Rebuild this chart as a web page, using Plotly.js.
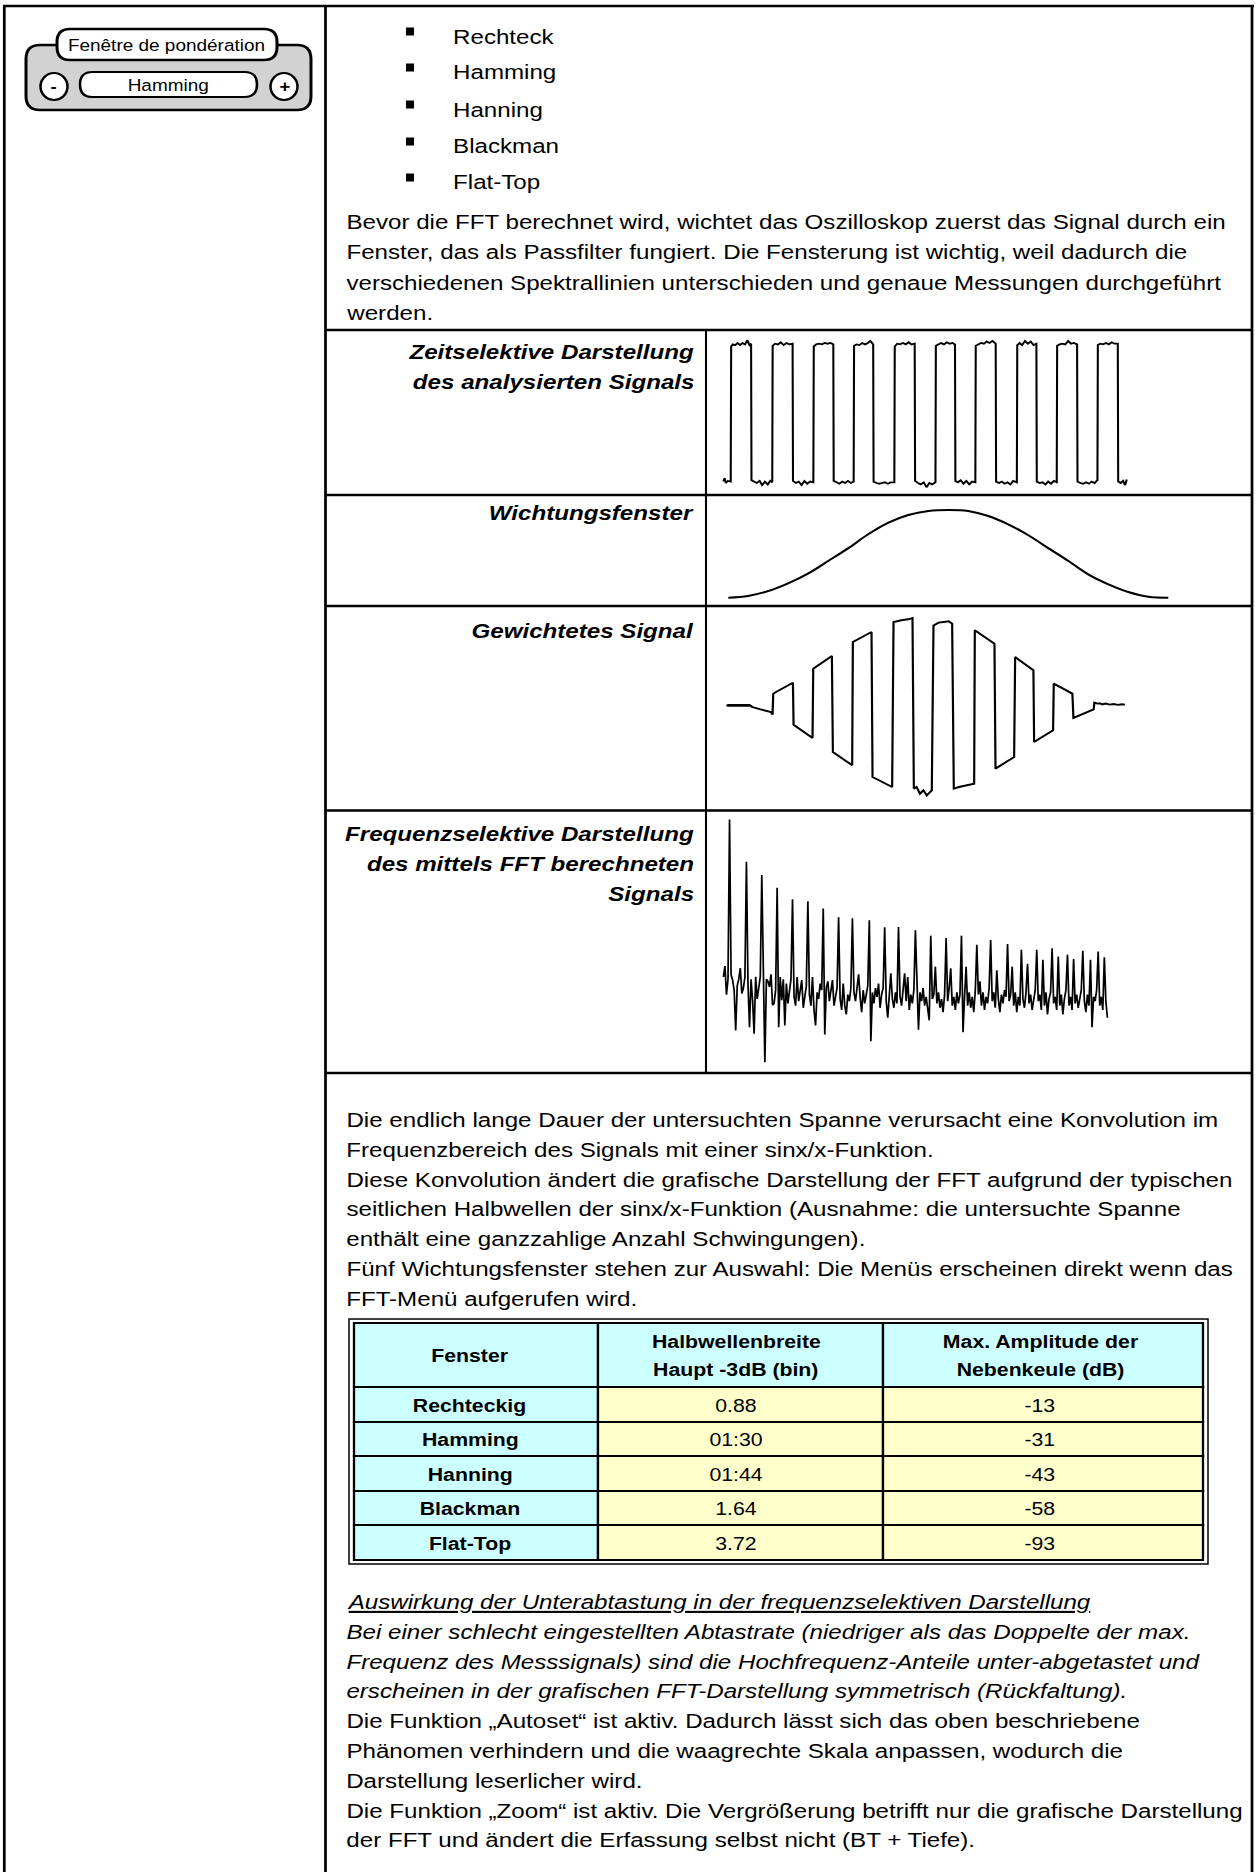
<!DOCTYPE html>
<html><head><meta charset="utf-8">
<script src="https://cdn.plot.ly/plotly-3.0.1.min.js"></script>
<style>
html,body{margin:0;padding:0;background:#fff;overflow:hidden;}
#page{width:1095px;height:1872px;transform-origin:0 0;}
</style></head><body><div id="page"></div>
<script>
// ================= DATA =================
const widgetTitle = "Fenêtre de pondération";
const widgetValue = "Hamming";
const windowOptions = ["Rechteck", "Hamming", "Hanning", "Blackman", "Flat-Top"];
const introLines = [
  "Bevor die FFT berechnet wird, wichtet das Oszilloskop zuerst das Signal durch ein",
  "Fenster, das als Passfilter fungiert. Die Fensterung ist wichtig, weil dadurch die",
  "verschiedenen Spektrallinien unterschieden und genaue Messungen durchgeführt",
  "werden."
];
const rowLabels = [
  ["Zeitselektive Darstellung", "des analysierten Signals"],
  ["Wichtungsfenster"],
  ["Gewichtetes Signal"],
  ["Frequenzselektive Darstellung", "des mittels FFT berechneten", "Signals"]
];
const convLines = [
  "Die endlich lange Dauer der untersuchten Spanne verursacht eine Konvolution im",
  "Frequenzbereich des Signals mit einer sinx/x-Funktion.",
  "Diese Konvolution ändert die grafische Darstellung der FFT aufgrund der typischen",
  "seitlichen Halbwellen der sinx/x-Funktion (Ausnahme: die untersuchte Spanne",
  "enthält eine ganzzahlige Anzahl Schwingungen).",
  "Fünf Wichtungsfenster stehen zur Auswahl: Die Menüs erscheinen direkt wenn das",
  "FFT-Menü aufgerufen wird."
];
const tableHeader = [["Fenster"], ["Halbwellenbreite", "Haupt -3dB (bin)"], ["Max. Amplitude der", "Nebenkeule (dB)"]];
const fensterNames = ["Rechteckig", "Hamming", "Hanning", "Blackman", "Flat-Top"];
const mainLobeWidth = ["0.88", "01:30", "01:44", "1.64", "3.72"];
const sideLobeDb = ["-13", "-31", "-43", "-58", "-93"];
const noteHeading = "Auswirkung der Unterabtastung in der frequenzselektiven Darstellung";
const noteItalic = [
  "Bei einer schlecht eingestellten Abtastrate (niedriger als das Doppelte der max.",
  "Frequenz des Messsignals) sind die Hochfrequenz-Anteile unter-abgetastet und",
  "erscheinen in der grafischen FFT-Darstellung symmetrisch (Rückfaltung)."
];
const notePlain = [
  "Die Funktion „Autoset“ ist aktiv. Dadurch lässt sich das oben beschriebene",
  "Phänomen verhindern und die waagrechte Skala anpassen, wodurch die",
  "Darstellung leserlicher wird.",
  "Die Funktion „Zoom“ ist aktiv. Die Vergrößerung betrifft nur die grafische Darstellung",
  "der FFT und ändert die Erfassung selbst nicht (BT + Tiefe)."
];

// time-domain square signal (time units, volts)
const sqT = [0.1,0.4,0.7,1.2,1.9,
 2.0,2.4,3.0,3.6,4.2,4.8,5.4,6.0,6.5,6.9,
 7.0,7.6,8.3,9.0,9.6,10.3,11.0,11.6,12.1,
 12.2,12.8,13.5,14.2,14.9,15.6,16.3,17.1,
 17.2,17.9,18.6,19.3,20.0,20.7,21.4,22.2,
 22.3,22.9,23.6,24.3,25.0,25.7,26.4,27.1,
 27.2,27.9,28.6,29.3,30.0,30.7,31.4,32.1,
 32.2,32.8,33.5,34.2,34.9,35.6,36.2,36.9,
 37.0,37.7,38.4,39.1,39.8,40.5,41.2,42.1,
 42.2,42.8,43.5,44.2,44.9,45.6,46.3,47.1,
 47.2,47.9,48.6,49.3,50.0,50.7,51.4,52.2,
 52.3,52.9,53.6,54.3,55.0,55.7,56.4,57.0,
 57.1,57.7,58.4,59.1,59.8,60.5,61.2,62.0,
 62.1,62.7,63.4,64.1,64.8,65.5,66.2,67.0,
 67.1,67.8,68.5,69.2,69.9,70.6,71.3,72.2,
 72.3,72.9,73.5,74.2,74.9,75.6,76.3,77.0,
 77.1,77.8,78.5,79.2,79.9,80.6,81.3,82.0,
 82.1,82.7,83.4,84.1,84.8,85.5,86.2,87.0,
 87.1,87.8,88.5,89.2,89.9,90.6,91.3,92.0,
 92.1,92.7,93.4,94.1,94.8,95.5,96.2,97.0,
 97.1,97.7,98.3,98.8,99.2];
const sqV = [-0.98,-0.93,-1.0,-0.97,-0.98,
 0.95,0.98,0.97,1.0,0.97,1.0,0.98,1.04,0.97,0.99,
 -0.96,-0.98,-1.0,-0.97,-1.03,-0.98,-1.02,-0.97,-0.99,
 0.96,0.99,0.98,1.01,0.97,1.0,0.98,0.99,
 -0.97,-1.0,-0.98,-1.03,-0.97,-1.01,-0.98,-0.99,
 0.95,0.98,0.99,0.98,1.0,0.99,1.0,0.98,
 -0.97,-0.99,-1.01,-0.98,-1.0,-0.97,-1.0,-0.98,
 0.96,0.98,0.97,1.0,0.98,1.0,1.03,0.98,
 -0.98,-1.0,-1.01,-1.0,-0.99,-1.01,-0.99,-0.99,
 0.95,0.99,0.98,1.0,0.98,1.01,0.98,0.99,
 -0.97,-1.0,-1.02,-0.99,-1.06,-1.0,-1.02,-0.99,
 0.96,0.98,1.0,0.98,1.01,0.99,1.0,0.98,
 -0.97,-0.99,-0.96,-1.01,-0.97,-1.02,-0.98,-0.99,
 0.96,0.98,1.0,0.99,1.02,1.0,1.03,0.99,
 -0.98,-1.0,-0.98,-1.01,-0.99,-1.02,-0.97,-0.99,
 0.97,1.0,0.97,1.03,0.99,1.02,0.97,0.99,
 -0.98,-1.0,-0.99,-1.02,-0.98,-1.01,-0.97,-0.99,
 0.96,0.98,0.99,0.98,1.03,0.99,1.0,0.98,
 -0.98,-1.0,-1.01,-0.99,-1.01,-0.98,-1.0,-0.96,
 0.97,0.99,0.98,1.0,0.98,1.01,0.99,0.99,
 -0.98,-1.0,-0.97,-1.03,-0.95];

// weighting window (normalised time, relative gain)
const winT = [0,0.045,0.091,0.136,0.182,0.227,0.273,0.318,0.364,0.409,0.455,0.5,0.545,0.591,0.636,0.682,0.727,0.773,0.818,0.864,0.909,0.955,1];
const winW = [0.08,0.098,0.15,0.23,0.335,0.465,0.6,0.745,0.867,0.948,0.99,1.0,0.99,0.937,0.85,0.735,0.6,0.465,0.325,0.22,0.14,0.09,0.08];

// weighted signal (time units, volts)
const wsT = [0.95,1.25,1.5,1.75,2.0,2.25,2.5,2.75,3.0,3.25,3.5,3.75,4.0,4.25,4.5,4.75,5.0,5.25,5.5,5.75,6.0,6.25,6.5,6.75,6.9,7.02,9.0,11.0,11.77,12.18,12.35,13.02,17.01,17.18,17.34,22.0,22.17,26.75,27.0,31.74,31.91,36.49,36.74,41.56,41.9,42.56,43.81,45.48,46.56,46.89,47.56,48.39,49.22,50.06,50.89,51.3,51.72,52.97,54.22,55.47,56.3,56.71,57.96,61.71,61.87,66.7,66.95,71.53,71.78,76.27,76.44,81.1,81.27,85.84,86.1,91.08,91.25,92.0,92.5,93.2,94.0,95.0,96.0,97.0,98.0,98.74];
const wsV = [0.01,-0.012,0.012,-0.012,0.012,-0.012,0.012,-0.012,0.012,-0.012,0.012,-0.012,0.012,-0.012,0.012,-0.012,0.012,-0.012,0.012,-0.012,0.012,-0.012,0.012,-0.012,0.0,-0.018,-0.045,-0.07,-0.079,-0.11,0.137,0.156,0.266,0.266,-0.228,-0.385,0.431,0.58,-0.55,-0.706,0.745,0.862,-0.843,-0.961,0.98,0.988,1.0,1.012,1.027,-0.98,-0.961,-1.04,-1.0,-1.059,-1.02,-1.0,0.94,0.973,0.98,0.988,0.96,-0.98,-0.961,-0.922,0.882,0.725,-0.745,-0.608,0.568,0.412,-0.432,-0.294,0.255,0.137,-0.149,-0.047,0.031,0.02,0.024,0.01,0.02,0.008,0.015,0.005,0.012,0.008];

// FFT spectrum, one value per frequency bin (dB)
const fftDb = [
 -65,-60,-73,-66,6.6,-64,-66.4,-71,-89.3,-69,
 -66,-61,-72.5,-70,-65,-12.6,-68,-87.8,-66,-75.6,
 -90.8,-64.9,-75,-69,-65,-18.6,-66,-103.8,-66,-67,
 -69.5,-63.8,-77.8,-77,-71,-24.4,-87.8,-65,-75.6,-66,
 -87,-68,-77,-71,-66,-29.7,-74,-78,-65,-76,
 -72,-66.4,-79,-74,-69,-30.6,-73,-78,-65,-80,
 -87,-72,-75,-68,-71,-33.9,-91.1,-70,-67,-76,
 -72,-66.4,-78,-73,-70,-37.8,-75,-80,-68,-78,
 -82,-73,-76,-70,-38.3,-72,-76,-70,-63.8,-74,
 -81,-71,-77,-73,-69,-39.2,-94.2,-72,-77,-70,
 -74,-68,-79,-73,-70,-42.4,-76,-83.5,-70,-63.3,
 -75,-79,-72,-77,-42.3,-74,-78,-71,-63.3,-76,
 -65,-80,-73,-77,-71,-43.8,-73,-89,-72,-76,
 -70,-78,-74,-79,-84.7,-46.2,-75,-73,-60.3,-77,
 -72,-79,-75,-81,-73,-47.3,-76,-70,-61,-78,
 -74,-80,-72,-77,-73,-46.2,-90.1,-74,-60.3,-78,
 -72,-79,-74,-81,-71,-50.4,-73,-67,-78,-72,
 -80,-74,-77,-70,-48.2,-76,-72,-79,-62,-75,
 -81,-73,-77,-71,-74,-50,-76,-73,-60.3,-78,
 -72,-81,-74,-78,-52.6,-75,-79,-72,-59,-77,
 -73,-80,-75,-71,-52.6,-76,-73,-80,-57.2,-78,
 -72,-82,-75,-72,-51.9,-77,-74,-80,-55.7,-78,
 -73,-82,-75,-71,-54.9,-78,-74,-80,-56.8,-77,
 -73,-79,-75,-71,-53.1,-76,-81,-73,-78,-57.2,
 -87.8,-74,-76,-71,-53.4,-78,-74,-80,-56,-76,
 -83.5];
const fftBin = fftDb.map((_, i) => i);

// ================= LAYOUT HELPERS =================
const W = 1259, H = 1872, PW = 1095, S = W / PW;
document.getElementById('page').style.transform = 'scaleX(' + S + ')';
const FONT = 'Liberation Sans, Arial, Helvetica, sans-serif';
const X = v => v / W, Y = v => 1 - v / H;

const shapes = [];
const annotations = [];
function line(x0, y0, x1, y1, w) {
  shapes.push({type:'line', xref:'paper', yref:'paper', x0:X(x0), y0:Y(y0), x1:X(x1), y1:Y(y1), line:{color:'#000', width:w}});
}
function rect(x0, y0, x1, y1, fill, w) {
  shapes.push({type:'rect', xref:'paper', yref:'paper', x0:X(x0), y0:Y(y0), x1:X(x1), y1:Y(y1), fillcolor:fill, line:{color:'#000', width:w}});
}
function rrect(x0, y0, x1, y1, r, fill, w) {
  const p = (a, b) => X(a) + ',' + Y(b);
  const path = 'M' + p(x0 + r, y0) + ' L' + p(x1 - r, y0) + ' Q' + p(x1, y0) + ' ' + p(x1, y0 + r) +
    ' L' + p(x1, y1 - r) + ' Q' + p(x1, y1) + ' ' + p(x1 - r, y1) +
    ' L' + p(x0 + r, y1) + ' Q' + p(x0, y1) + ' ' + p(x0, y1 - r) +
    ' L' + p(x0, y0 + r) + ' Q' + p(x0, y0) + ' ' + p(x0 + r, y0) + ' Z';
  shapes.push({type:'path', xref:'paper', yref:'paper', path, fillcolor:fill, line:{color:'#000', width:w}});
}
function circle(cx, cy, r, fill, w) {
  shapes.push({type:'circle', xref:'paper', yref:'paper', x0:X(cx - r), y0:Y(cy + r), x1:X(cx + r), y1:Y(cy - r), fillcolor:fill, line:{color:'#000', width:w}});
}
function txt(text, x, y, size, anchor) {
  annotations.push({xref:'paper', yref:'paper', x:X(x), y:Y(y), text, showarrow:false,
    xanchor: anchor || 'left', yanchor:'middle', borderpad:0,
    font:{family:FONT, size:size || 21, color:'#000'}});
}

// ---------- page frame ----------
line(3, 6, 1254, 6, 2.6);
line(4.3, 6, 4.3, H, 2.4);
line(1252, 6, 1252, H, 2.4);
line(325.5, 6, 325.5, H, 2.4);
[330, 495, 606, 810.5, 1073].forEach(yy => line(325.5, yy, 1252, yy, 2.6));
line(706, 330, 706, 1073, 1.8);

// ---------- widget ----------
rrect(26, 45, 311, 110, 14, '#d2d2d2', 2.6);
rrect(57, 29, 277, 60, 13, '#ffffff', 2.6);
rrect(80, 72, 257, 97, 12.5, '#ffffff', 2.2);
circle(54, 86.5, 13.5, '#ffffff', 2.2);
circle(284, 86.5, 13.5, '#ffffff', 2.2);
txt(widgetTitle, 167, 44.5, 16.5, 'center');
txt(widgetValue, 168, 85, 16.5, 'center');
txt('<b>-</b>', 54, 86, 16, 'center');
txt('<b>+</b>', 284, 86, 16, 'center');

// ---------- bullet list ----------
const bulletY = [36, 72, 109, 146, 182];
windowOptions.forEach((o, i) => {
  shapes.push({type:'rect', xref:'paper', yref:'paper', x0:X(406), x1:X(414), y0:Y(bulletY[i] - 0.5), y1:Y(bulletY[i] - 8.5), fillcolor:'#000', line:{width:0}});
  txt(o, 452, bulletY[i]);
});
introLines.forEach((l, i) => txt(l, 345, 221 + i * 30.6));

// ---------- row labels ----------
const labelStart = [351.5, 512, 630, 833];
rowLabels.forEach((ls, r) => ls.forEach((l, k) => txt('<b><i>' + l + '</i></b>', 696, labelStart[r] + k * 30, 21, 'right')));

// ---------- convolution text ----------
convLines.forEach((l, i) => txt(l, 345, 1119.4 + i * 29.8));

// ---------- window table ----------
rect(349, 1319, 1208, 1564, 'rgba(0,0,0,0)', 1.3);
const colX = [354, 598, 883, 1203];
const rowY = [1323, 1387, 1422, 1456, 1491, 1525, 1560];
const colC = [470, 736, 1040];
const CYAN = '#ccffff', YEL = '#ffffcc';
for (let c = 0; c < 3; c++) rect(colX[c], rowY[0], colX[c + 1], rowY[1], CYAN, 2);
const tableCols = [fensterNames, mainLobeWidth, sideLobeDb];
for (let r = 0; r < fensterNames.length; r++) {
  for (let c = 0; c < 3; c++) {
    rect(colX[c], rowY[r + 1], colX[c + 1], rowY[r + 2], c === 0 ? CYAN : YEL, 2);
    const t = tableCols[c][r];
    txt(c === 0 ? '<b>' + t + '</b>' : t, colC[c], (rowY[r + 1] + rowY[r + 2]) / 2 + 0.5, 18.5, 'center');
  }
}
tableHeader.forEach((ls, c) => {
  const mid = 1355;
  ls.forEach((l, k) => txt('<b>' + l + '</b>', colC[c], mid + (k - (ls.length - 1) / 2) * 28, 18.5, 'center'));
});

// ---------- notes ----------
txt('<i><u>' + noteHeading + '</u></i>', 345, 1601.5);
noteItalic.forEach((l, i) => txt('<i>' + l + '</i>', 345, 1631.3 + i * 29.8));
notePlain.forEach((l, i) => txt(l, 345, 1720.7 + i * 29.8));

// ================= PLOT AREAS =================
function xa(pxLo, pxHi, a, b, anchor) {   // px = a + b*value
  return {domain:[X(pxLo), X(pxHi)], range:[(pxLo - a) / b, (pxHi - a) / b], visible:false, fixedrange:true, anchor};
}
function ya(pyTop, pyBot, a, b, anchor) { // py = a - b*value
  return {domain:[Y(pyBot), Y(pyTop)], range:[(a - pyBot) / b, (a - pyTop) / b], visible:false, fixedrange:true, anchor};
}
const ln = w => ({color:'#000', width:w});
const traces = [
  {type:'scatter', mode:'lines', x:sqT, y:sqV, xaxis:'x', yaxis:'y', line:ln(1.8), hoverinfo:'skip'},
  {type:'scatter', mode:'lines', x:winT, y:winW, xaxis:'x2', yaxis:'y2', line:Object.assign(ln(2), {shape:'spline', smoothing:1}), hoverinfo:'skip'},
  {type:'scatter', mode:'lines', x:wsT, y:wsV, xaxis:'x3', yaxis:'y3', line:ln(1.9), hoverinfo:'skip'},
  {type:'scatter', mode:'lines', x:fftBin, y:fftDb, xaxis:'x4', yaxis:'y4', line:ln(1.5), hoverinfo:'skip'}
];
const layout = {
  width: PW, height: H, margin:{l:0, r:0, t:0, b:0}, autosize:false,
  paper_bgcolor:'#fff', plot_bgcolor:'rgba(0,0,0,0)', showlegend:false,
  xaxis:  xa(712, 1140, 723, 4.07, 'y'),   yaxis:  ya(336, 494, 413, 70, 'x'),
  xaxis2: xa(712, 1190, 728.3, 440, 'y2'), yaxis2: ya(500, 604, 605.3, 95.3, 'x2'),
  xaxis3: xa(712, 1140, 723, 4.07, 'y3'),  yaxis3: ya(612, 805, 705.3, 85, 'x3'),
  xaxis4: xa(712, 1140, 723.4, 1.536, 'y4'), yaxis4: ya(814, 1070, 834, 2.2, 'x4'),
  shapes, annotations
};
Plotly.newPlot('page', traces, layout, {staticPlot:true, displayModeBar:false});
</script></body></html>
